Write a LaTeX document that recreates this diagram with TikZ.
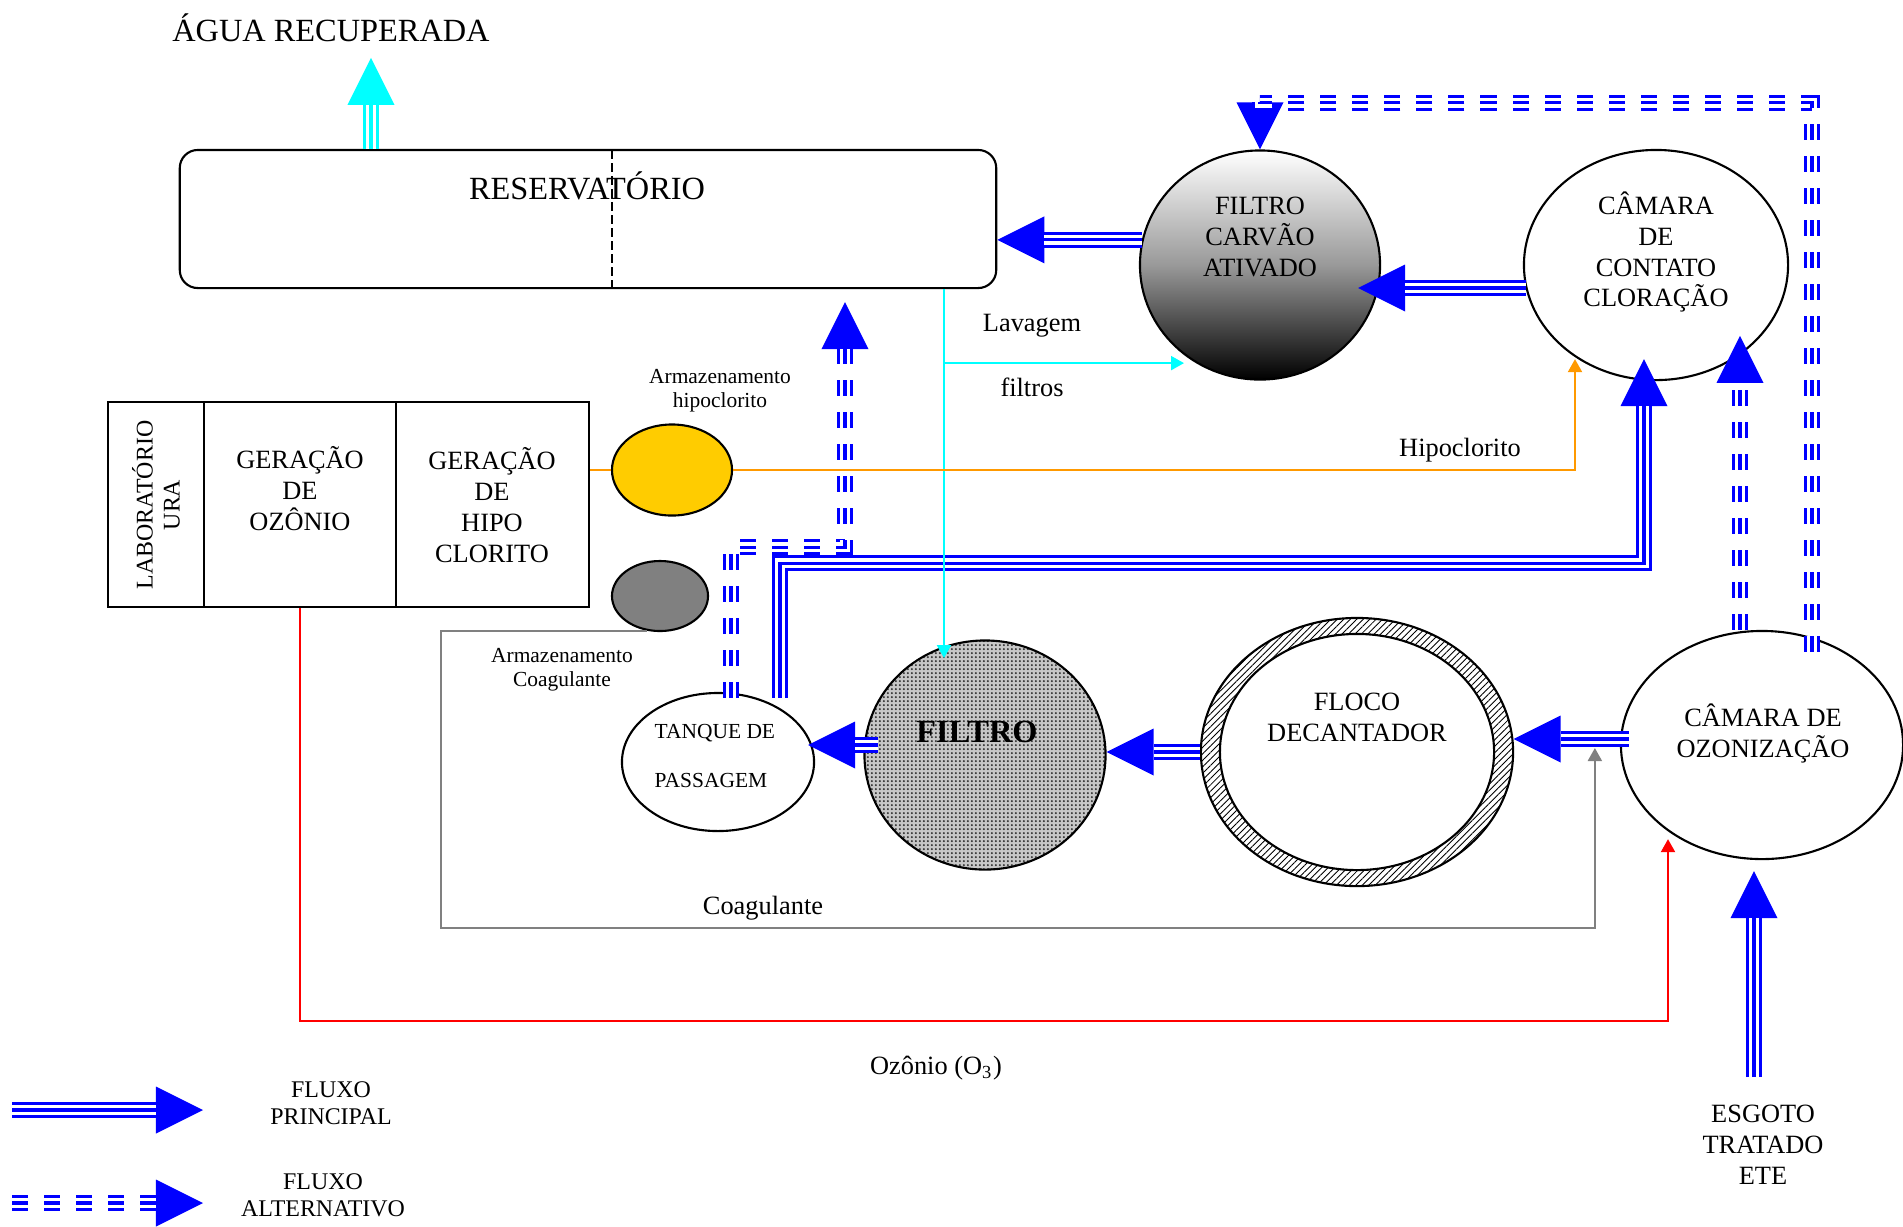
\documentclass[tikz,border=0pt]{standalone}
\usepackage{fontspec}
\setmainfont{Liberation Serif}
\usetikzlibrary{arrows.meta,calc,patterns.meta,positioning,shapes.geometric}
\definecolor{hipoyellow}{HTML}{FFCC00}
\definecolor{hipoorange}{HTML}{FF9900}
\definecolor{coaggray}{HTML}{808080}
\definecolor{aguacyan}{HTML}{00FFFF}
\newcommand{\fbig}{\fontsize{9.2}{10.7}\selectfont}
\newcommand{\fnorm}{\fontsize{7.5}{8.8}\selectfont}
\newcommand{\fsmall}{\fontsize{6.1}{6.8}\selectfont}
\newcommand{\flegend}{\fontsize{6.8}{7.7}\selectfont}
\newcommand{\ftank}{\fontsize{6.1}{14}\selectfont}
\tikzdeclarepattern{
	name=finedots,
	type=uncolored,
	bottom left={(0pt,0pt)},
	top right={(1.1pt,1.1pt)},
	tile size={(1.1pt,1.1pt)},
	code={\fill (0.55pt,0.55pt) circle [radius=0.32pt];}
}
\tikzset{%
	flowtip/.style  = {-{Triangle[length=0.47cm,width=0.47cm,line width=0pt]}},
	mainflow/.style = {draw=#1, line width=0.16cm, flowtip,
		postaction={draw=white, line width=0.096cm, -, shorten >=0.47cm},
		postaction={draw=#1, line width=0.032cm, -, shorten >=0.47cm}},
	mainflow/.default = blue,
	altflow/.style  = {draw=blue, line width=0.16cm, flowtip, dash pattern=on 0.16cm off 0.16cm,
		postaction={draw=white, line width=0.096cm, -, shorten >=0.47cm, dash pattern=on 0.16cm off 0.16cm},
		postaction={draw=blue, line width=0.032cm, -, shorten >=0.47cm, dash pattern=on 0.16cm off 0.16cm}},
	thinflow/.style = {draw=#1, line width=0.6pt, -{Triangle[length=0.13cm,width=0.14cm]}},
	unitbox/.style  = {draw, line width=0.6pt, inner sep=0, minimum height=2.05cm},
	tank/.style     = {draw, ellipse, line width=0.6pt, inner sep=0},
	lbl/.style      = {inner sep=0, align=center, font=\fnorm},
}

\begin{document}
\begin{tikzpicture}[x=0.01cm,y=-0.01cm]
	\useasboundingbox (0,0) rectangle (1903,1226);
	
	% reservatorio
	\node[draw, line width=0.6pt, rounded corners=0.18cm, inner sep=0, minimum width=8.16cm, minimum height=1.38cm] (res) at (588,219) {};
	\draw[line width=0.5pt, dash pattern=on 0.09cm off 0.04cm] (612,150) -- (612,288);
	\node[lbl, font=\fbig] (restxt) at (587,186) {RESERVATÓRIO};
	\node[lbl, font=\fbig] (agua) at (331,28) {ÁGUA RECUPERADA};
	
	% unidades de tratamento
	\node[tank, minimum width=2.40cm, minimum height=2.29cm, top color=white, bottom color=black, middle color=black!40] (carvao) at (1260,265) {};
	\node[lbl] (carvaotxt) at (1260,237) {FILTRO\\CARVÃO\\ATIVADO};
	
	\node[tank, minimum width=2.64cm, minimum height=2.30cm] (cloro) at (1656,265) {};
	\node[lbl] (clorotxt) at (1656,252) {CÂMARA\\DE\\CONTATO\\CLORAÇÃO};
	
	\node[tank, minimum width=2.82cm, minimum height=2.28cm] (ozon) at (1762,745) {};
	\node[lbl] (ozontxt) at (1763,733) {CÂMARA DE\\OZONIZAÇÃO};
	
	\node[tank, minimum width=3.12cm, minimum height=2.68cm, pattern={Lines[angle=45,distance=1.3pt,line width=0.25pt]}] (flocoout) at (1357,752) {};
	\node[tank, fill=white, minimum width=2.74cm, minimum height=2.36cm] (floco) at (1357,752) {};
	\node[lbl] (flocotxt) at (1357,717) {FLOCO\\DECANTADOR};
	
	\node[tank, minimum width=2.41cm, minimum height=2.29cm, preaction={fill=black!22}, pattern=finedots, pattern color=black!80] (filtro) at (985,755) {};
	\node[lbl, font=\fbig\bfseries] (filtrotxt) at (977,732) {FILTRO};
	
	\node[tank, minimum width=1.92cm, minimum height=1.38cm] (tanque) at (718,762) {};
	\node[lbl, align=left, font=\ftank, anchor=west] (tanquetxt) at (654,756) {TANQUE DE\\PASSAGEM};
	
	% armazenamento
	\node[tank, fill=hipoyellow, minimum width=1.20cm, minimum height=0.91cm] (hipost) at (672,470) {};
	\node[tank, fill=coaggray, minimum width=0.96cm, minimum height=0.70cm] (coagst) at (660,596) {};
	\node[lbl, font=\fsmall] (hiposttxt) at (720,391) {Armazenamento\\hipoclorito};
	\node[lbl, font=\fsmall] (coagsttxt) at (562,670) {Armazenamento\\Coagulante};
	
	% laboratorio e geracao
	\node[unitbox, minimum width=0.96cm] (lab) at (156,504.5) {};
	\node[unitbox, minimum width=1.92cm] (ozg) at (300,504.5) {};
	\node[unitbox, minimum width=1.93cm] (hipog) at (492.5,504.5) {};
	\node[lbl, font=\flegend, rotate=90] (labtxt) at (156,505) {LABORATÓRIO\\URA};
	\node[lbl] (ozgtxt) at (300,489) {GERAÇÃO\\DE\\OZÔNIO};
	\node[lbl] (hipogtxt) at (492,505) {GERAÇÃO\\DE\\HIPO\\CLORITO};
	
	% textos soltos
	\node[lbl] (lavtxt) at (1032,326) {Lavagem};
	\node[lbl] (filtxt) at (1032,387) {filtros};
	\node[lbl] (hipotxt) at (1460,450) {Hipoclorito};
	\node[lbl] (coagtxt) at (763,908) {Coagulante};
	\node[lbl] (o3txt) at (936,1068) {Ozônio (O\textsubscript{3})};
	\node[lbl] (esgoto) at (1763,1145) {ESGOTO\\TRATADO\\ETE};
	\node[lbl, font=\flegend] (princtxt) at (331,1103) {FLUXO\\PRINCIPAL};
	\node[lbl, font=\flegend] (alttxt) at (323,1195) {FLUXO\\ALTERNATIVO};
	
	% fluxo principal
	\coordinate (oz1) at ($(ozon.west)+(9,-6)$);
	\coordinate (fl1) at ($(filtro.west)+(15,-10)$);
	\draw[mainflow=aguacyan] ($(res.north)+(-217,0)$) -- ($(res.north)+(-217,-91)$);
	\draw[mainflow] (carvao.168) -- (carvao.168 -| res.east);
	\draw[mainflow] (cloro.190) -- ($(cloro.190 -| carvao.east)+(-23,0)$);
	\draw[mainflow] ($(tanque.north)+(62,6)$) |- ($(cloro.south)+(-12,182)$) -- ($(cloro.south)+(-12,-22)$);
	\draw[mainflow] (oz1) -- (oz1 -| flocoout.east);
	\draw[mainflow] (flocoout.west) -- (flocoout.west -| filtro.east);
	\draw[mainflow] (fl1) -- ($(fl1 -| tanque.east)+(-7,0)$);
	\draw[mainflow] ($(ozon.south)+(-8,217)$) -- ($(ozon.south)+(-8,11)$);
	
	% fluxo alternativo
	\draw[altflow] ($(tanque.north)+(13,6)$) |- ($(res.south)+(257,258)$) -- ($(res.south)+(257,13)$);
	\draw[altflow] ($(ozon.north)+(-22,0)$) -- ($(ozon.north)+(-22,-294)$);
	\draw[altflow] ($(ozon.north)+(50,22)$) -- ($(ozon.north)+(50,-527)$) -| (carvao.north);
	
	% legenda
	\coordinate (lgp) at (12,1110);
	\coordinate (lga) at (12,1203);
	\draw[mainflow] (lgp) -- ++(191,0);
	\draw[altflow] (lga) -- ++(191,0);
	
	% linhas de produtos
	\coordinate (cgc) at (441,928);
	\draw[thinflow=aguacyan] ($(res.south)+(356,0)$) -- ($(res.south)+(356,369)$);
	\draw[thinflow=aguacyan] ($(res.south)+(356,74)$) -- ($(res.south)+(596,74)$);
	\draw[hipoorange, line width=0.6pt] (hipost.west -| hipog.east) -- (hipost.west);
	\draw[thinflow=hipoorange] (hipost.east) -| ($(cloro.south)+(-81,-22)$);
	\draw[thinflow=coaggray] (coagst.250) -| (cgc) -| ($(ozon.west)+(-25,3)$);
	\draw[thinflow=red] (ozg.south) |- ($(ozon.south)+(-94,161)$) -- ($(ozon.south)+(-94,-21)$);
	
\end{tikzpicture}
\end{document}
